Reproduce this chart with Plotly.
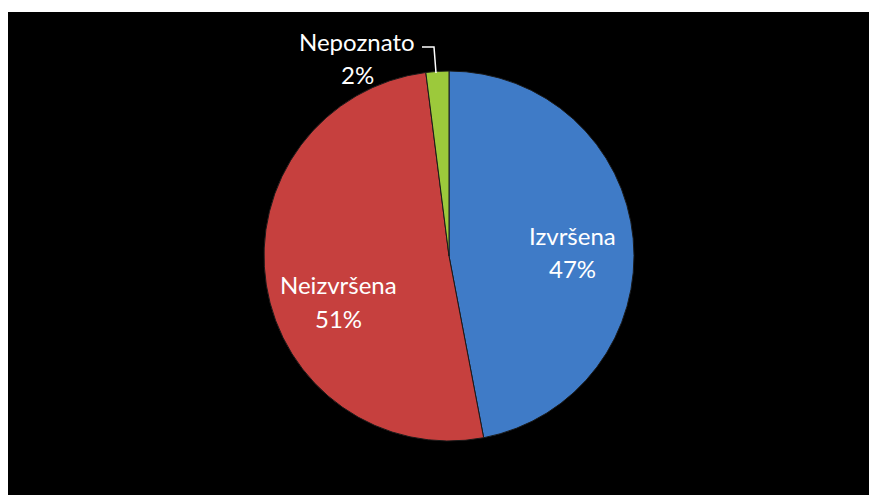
import plotly.graph_objects as go

labels = ["Izvršena", "Neizvršena", "Nepoznato"]
values = [47, 51, 2]
colors = ["#3F7BC7", "#C6403E", "#9CC93B"]

# page is 877x495; the browser body adds an 8px margin around the figure,
# so the figure is made slightly oversized to reach the right/bottom edges
PAGE_OFF = 8
W, H = 877, 495
ML, MT = 0, 4
PW, PH = W - ML, H - MT

def px(x):
    return (x - PAGE_OFF - ML) / PW

def py(y):
    return 1 - (y - PAGE_OFF - MT) / PH

cx, cy, r = 449, 256, 185

fig = go.Figure()
fig.add_trace(go.Pie(
    labels=labels,
    values=values,
    sort=False,
    direction="clockwise",
    rotation=0,
    marker=dict(colors=colors, line=dict(color="#1a1a1a", width=1)),
    textinfo="none",
    hoverinfo="label+percent",
    showlegend=False,
    domain=dict(x=[px(cx - 300), px(cx + 300)], y=[py(cy + r), py(cy - r)]),
))

total = sum(values)
pct = [f"{round(v * 100 / total)}%" for v in values]
# (x centre, y of name line, y of percent line)
label_pos = [(572, 235, 268), (338, 284, 318), (357, 42, 74)]
font = dict(family="Lato, 'Open Sans', sans-serif", size=24, color="white")
for lab, p, (x, y1, y2) in zip(labels, pct, label_pos):
    for txt, y in ((lab, y1), (p, y2)):
        fig.add_annotation(
            x=px(x), y=py(y), xref="paper", yref="paper",
            text=txt, showarrow=False, font=font,
            xanchor="center", yanchor="middle",
        )

# leader line for the small slice label
fig.add_shape(
    type="path",
    path=f"M {px(422)} {py(47)} L {px(434)} {py(47)} L {px(436)} {py(73)}",
    xref="paper", yref="paper",
    line=dict(color="white", width=1.5),
)

# black chart area
fig.add_shape(
    type="rect", xref="paper", yref="paper",
    x0=0, x1=1, y0=0, y1=1,
    fillcolor="black", line=dict(width=0), layer="below",
)

fig.update_layout(
    width=W, height=H,
    margin=dict(l=ML, t=MT, r=0, b=0),
    paper_bgcolor="white",
    plot_bgcolor="black",
)

fig.write_html("out.html")
